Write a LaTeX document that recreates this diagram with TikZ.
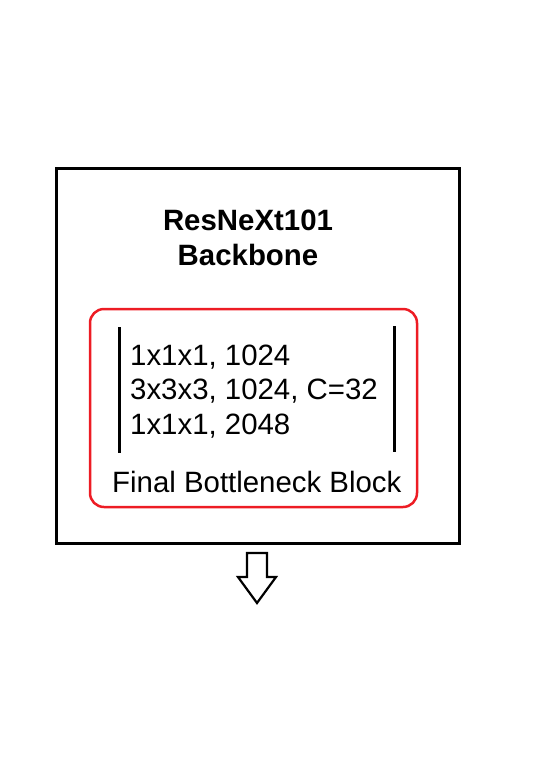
\documentclass[tikz,border=0pt]{standalone}
\usepackage{fontspec}
\setmainfont{Liberation Sans}
\definecolor{blockred}{RGB}{237,28,36}
\tikzset{
  label/.style={inner sep=0pt, font=\fontsize{29.4}{35}\selectfont},
}
\begin{document}
\begin{tikzpicture}[x=1pt, y=-1pt]
      \useasboundingbox (0,0) rectangle (536,774);
      \node[draw, line width=3pt, minimum width=403pt, minimum height=375pt] (backbone) at (257.5,355.5) {};
      \node[draw=blockred, line width=2.5pt, rounded corners=14pt, minimum width=327pt, minimum height=198pt] (block) at (253.5,408) {};
      \node[label, anchor=base] (title1) at (248,230) {\bfseries ResNeXt101};
      \node[label, anchor=base] (title2) at (248,265) {\bfseries Backbone};
      \node[label, anchor=base west] (row1) at (130,365) {1x1x1, 1024};
      \node[label, anchor=base west] (row2) at (130,399) {3x3x3, 1024, C=32};
      \node[label, anchor=base west] (row3) at (130,434) {1x1x1, 2048};
      \node[label, anchor=base west] (caption) at (112,492) {Final Bottleneck Block};
      \begin{scope}[line width=3pt]
        \draw (119,327) -- (119,453);
        \draw (394,326) -- (394,452);
      \end{scope}
      \draw[line width=2.2pt] (247,553) -- (267,553) -- (267,577) -- (276,577)
        -- (257,603) -- (238,577) -- (247,577) -- cycle;
\end{tikzpicture}
\end{document}
